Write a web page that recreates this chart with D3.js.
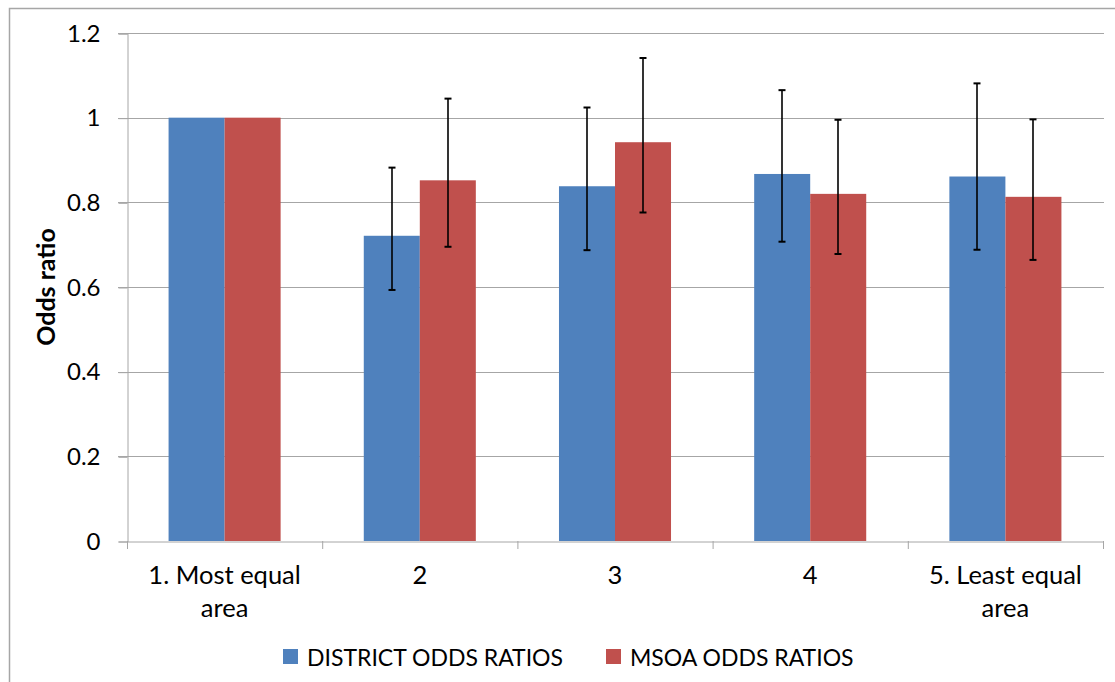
<!DOCTYPE html>
<html><head><meta charset="utf-8">
<script src="https://cdn.jsdelivr.net/npm/d3@7"></script>
<style>body{margin:0;background:#fff}svg{display:block}</style>
</head><body>
<script>
const categories = ["1. Most equal area", "2", "3", "4", "5. Least equal area"];
const seriesNames = ["DISTRICT ODDS RATIOS", "MSOA ODDS RATIOS"];
const districtValues = [1.0, 0.721, 0.838, 0.867, 0.861];
const districtLower = [null, 0.593, 0.687, 0.707, 0.688];
const districtUpper = [null, 0.882, 1.024, 1.065, 1.081];
const msoaValues = [1.0, 0.852, 0.942, 0.820, 0.813];
const msoaLower = [null, 0.695, 0.776, 0.678, 0.664];
const msoaUpper = [null, 1.045, 1.141, 0.995, 0.996];
const yTicks = [0, 0.2, 0.4, 0.6, 0.8, 1, 1.2];
const colors = ["#4f81bd", "#c0504d"];

(function () {
const W = 1115, H = 682;
const svg = d3.select("body").append("svg").attr("width", W).attr("height", H);
const font = "Lato, 'Open Sans', sans-serif";

svg.append("rect").attr("x", 9.5).attr("y", 8.5).attr("width", W + 20).attr("height", H + 20)
  .attr("fill", "none").attr("stroke", "#a6a6a6").attr("stroke-width", 1.5);

const pLeft = 127, pRight = 1103, pTop = 33, pBottom = 541;
const x = d3.scaleBand().domain(categories).range([pLeft, pRight]).paddingInner(0.426).paddingOuter(0.213);
const x0 = d3.scaleBand().domain(categories).range([pLeft, pRight]);
const xs = d3.scaleBand().domain([0, 1]).range([0, x.bandwidth()]);
const y = d3.scaleLinear().domain([0, 1.2]).range([pBottom, pTop]);

// gridlines
svg.append("g").selectAll("line").data(yTicks.filter(d => d > 0)).join("line")
  .attr("x1", pLeft - 9).attr("x2", pRight + 1)
  .attr("y1", d => Math.round(y(d)) + 0.5).attr("y2", d => Math.round(y(d)) + 0.5)
  .attr("stroke", "#a6a6a6").attr("stroke-width", 1);

// y axis
const yAxis = d3.axisLeft(y).tickValues(yTicks).tickSize(9).tickPadding(18).tickFormat(d => String(d));
const gy = svg.append("g").attr("transform", `translate(${pLeft + 0.5},0.5)`).call(yAxis);
gy.select(".domain").attr("stroke", "#a6a6a6");
gy.selectAll(".tick line").attr("stroke", "#a6a6a6");
gy.selectAll("text").attr("font-family", font).attr("font-size", 24).attr("fill", "#000");

// bars
const series = [
  {vals: districtValues, lo: districtLower, hi: districtUpper},
  {vals: msoaValues, lo: msoaLower, hi: msoaUpper}
];
series.forEach((s, si) => {
  const g = svg.append("g");
  g.selectAll("rect").data(categories).join("rect")
    .attr("x", c => x(c) + xs(si))
    .attr("width", xs.bandwidth())
    .attr("y", (c, i) => y(s.vals[i]))
    .attr("height", (c, i) => y(0) - y(s.vals[i]))
    .attr("fill", colors[si]);
});

// x axis
const xAxis = d3.axisBottom(x0).tickSize(0).tickFormat("");
const gx = svg.append("g").attr("transform", `translate(0,${pBottom + 0.5})`).call(xAxis);
gx.select(".domain").attr("stroke", "#a6a6a6");
svg.append("g").selectAll("line").data(categories.concat(["end"])).join("line")
  .attr("x1", (c, i) => i < categories.length ? x0(c) + 0.5 : pRight + 0.5)
  .attr("x2", (c, i) => i < categories.length ? x0(c) + 0.5 : pRight + 0.5)
  .attr("y1", pBottom).attr("y2", pBottom + 8)
  .attr("stroke", "#a6a6a6");

// error bars
series.forEach((s, si) => {
  const g = svg.append("g").attr("stroke", "#000").attr("stroke-width", 2);
  categories.forEach((c, i) => {
    if (s.lo[i] == null) return;
    const cx = Math.round(x(c) + xs(si) + xs.bandwidth() / 2);
    g.append("line").attr("x1", cx).attr("x2", cx).attr("y1", y(s.lo[i])).attr("y2", y(s.hi[i])).attr("stroke-width", 1.6);
    [s.lo[i], s.hi[i]].forEach(v => {
      g.append("line").attr("x1", cx - 3.5).attr("x2", cx + 3.5).attr("y1", y(v)).attr("y2", y(v));
    });
  });
});

// x labels
const lines = {"1. Most equal area": ["1. Most equal", "area"], "5. Least equal area": ["5. Least equal", "area"]};
categories.forEach(c => {
  const ls = lines[c] || [c];
  const t = svg.append("text").attr("font-family", font).attr("font-size", 25.5)
    .attr("text-anchor", "middle").attr("fill", "#000");
  ls.forEach((l, j) => t.append("tspan").attr("x", x0(c) + x0.bandwidth() / 2).attr("y", 584 + j * 33).text(l));
});

// y title
svg.append("text").attr("transform", `translate(55,287) rotate(-90)`)
  .attr("text-anchor", "middle").attr("font-family", font).attr("font-weight", "bold")
  .attr("font-size", 25).attr("fill", "#000").text("Odds ratio");

// legend
const legendX = [283, 606];
seriesNames.forEach((n, i) => {
  svg.append("rect").attr("x", legendX[i]).attr("y", 649).attr("width", 15).attr("height", 15).attr("fill", colors[i]);
  svg.append("text").attr("x", legendX[i] + 24).attr("y", 666).attr("font-family", font)
    .attr("font-size", 23).attr("fill", "#000").text(n);
});
})();
</script>
</body></html>
